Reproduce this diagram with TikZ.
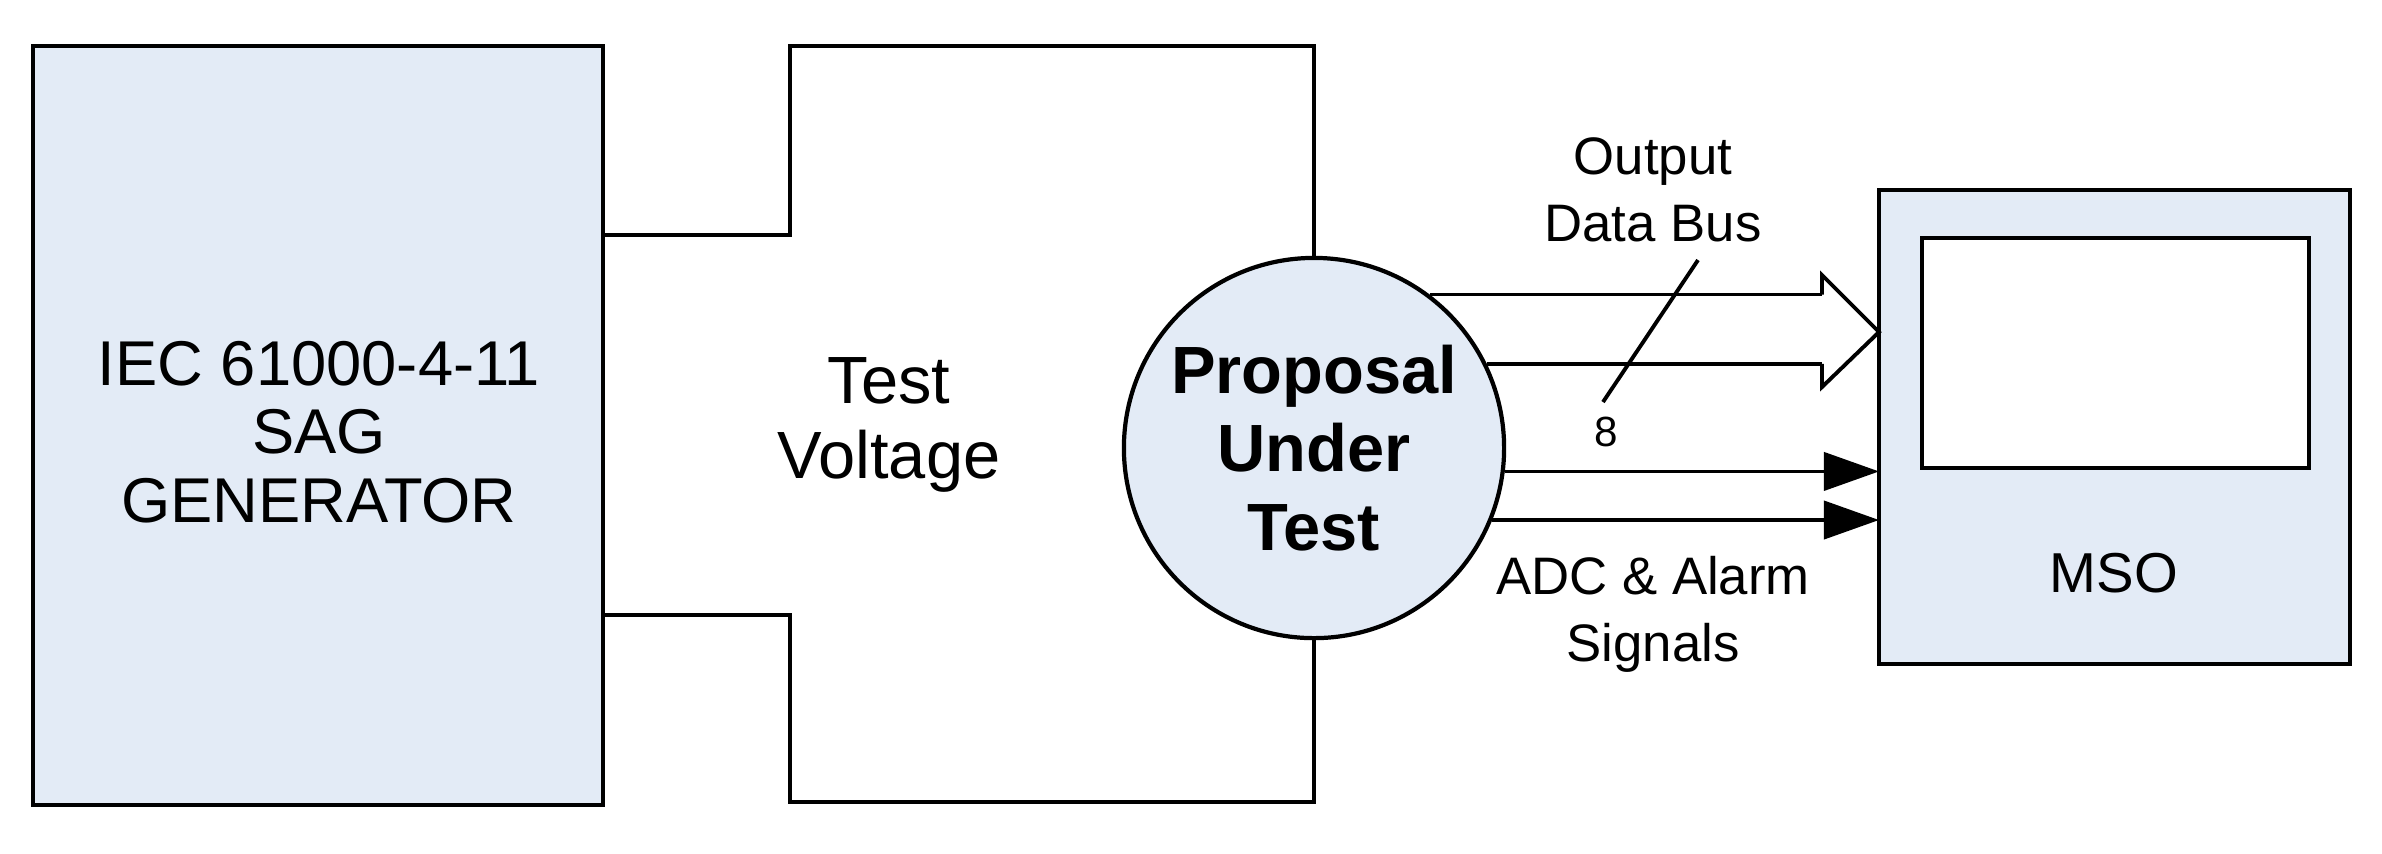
\documentclass[tikz,border=0pt]{standalone}
\usepackage{fontspec}
\setmainfont{Liberation Sans}
\usetikzlibrary{arrows.meta,positioning,calc}

\definecolor{boxblue}{HTML}{E3EBF6}
\tikzset{
  blk/.style={draw,line width=1.2pt,fill=boxblue},
  wire/.style={line width=1.1pt},
  sig/.style={wire,-{Triangle[length=0.55cm,width=0.38cm]}},
  lbl/.style={font=\fontsize{15}{19}\selectfont,align=center}
}

\begin{document}
\begin{tikzpicture}[x=0.01cm,y=-0.01cm]
\useasboundingbox (0,0) rectangle (2382,853);

% blocks
\draw[blk] (33,46) rectangle (603,805);
\node[lbl,font=\fontsize{18}{19.5}\selectfont] (gen) at (319,432) {IEC 61000-4-11\\SAG\\GENERATOR};
\node[blk,circle,minimum size=3.8cm,inner sep=0pt] (ut) at (1314,448) {};
\node[lbl,font=\bfseries\fontsize{19}{22.4}\selectfont] at (ut) {Proposal\\Under\\Test};
\draw[blk] (1879,190) rectangle (2350,664);
\coordinate (mso) at (1879,332);
\coordinate (head) at (1822,0);
\draw[wire,fill=white] (1922,238) rectangle (2309,468);
\node[lbl,font=\fontsize{16}{20}\selectfont] at (2114,573) {MSO};

% test voltage loop
\draw[wire] (603,235) -- (790,235) -- (790,46) -- (1314,46) -- (ut.north);
\draw[wire] (603,615) -- (790,615) -- (790,802) -- (1314,802) -- (ut.south);
\node[lbl,font=\fontsize{19}{21.5}\selectfont] at (889,425) {Test\\Voltage};

% data bus
\draw[wire] (ut.53) -- (ut.53 -| head);
\draw[wire] (ut.26) -- (ut.26 -| head);
\draw[wire,fill=white] (ut.53 -| head) -- (1822,275) -- (mso) -- (1822,387) -- (ut.26 -| head);
\draw[wire] (1698,260) -- (1603,402);
\node[font=\fontsize{12}{14}\selectfont] at (1606,432) {8};
\node[lbl] at (1653,190) {Output\\Data Bus};

% signals
\draw[sig] (ut.-7) -- (ut.-7 -| mso);
\draw[sig] (ut.-22) -- (ut.-22 -| mso);
\node[lbl] at (1653,614) {ADC \& Alarm\\Signals};
\end{tikzpicture}
\end{document}
